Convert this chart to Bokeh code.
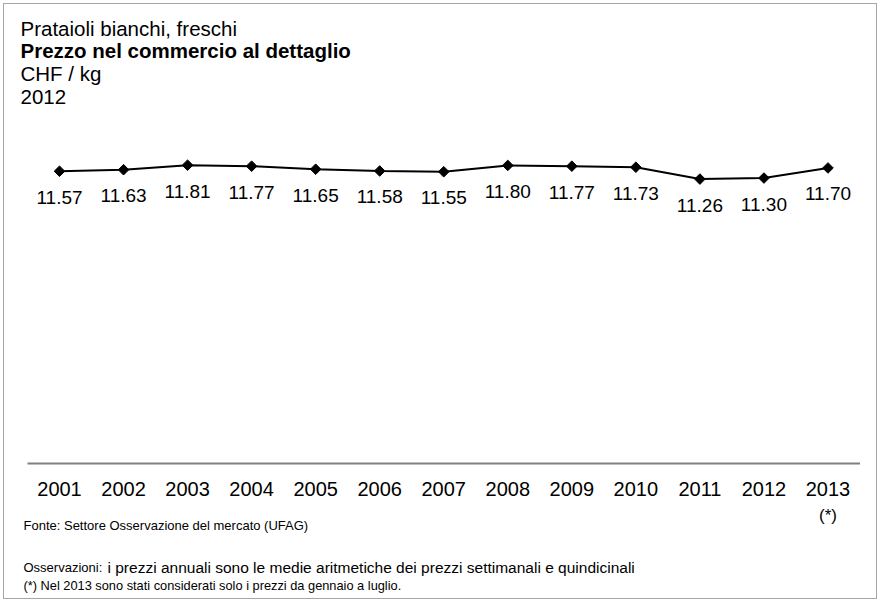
import numpy as np
from bokeh.plotting import figure
from bokeh.models import Label, ColumnDataSource, Range1d
from bokeh.core.properties import value
from bokeh.embed import file_html
from bokeh.resources import INLINE

# ---- data ----
years = ["2001", "2002", "2003", "2004", "2005", "2006", "2007",
         "2008", "2009", "2010", "2011", "2012", "2013"]
prices = [11.57, 11.63, 11.81, 11.77, 11.65, 11.58, 11.55,
          11.80, 11.77, 11.73, 11.26, 11.30, 11.70]
price_labels = ["%.2f" % v for v in prices]
year_pos = [int(y) for y in years]
year_note = "(*)"

title_lines = ["Prataioli bianchi, freschi", "Prezzo nel commercio al dettaglio",
               "CHF / kg", "2012"]
source_note = "Fonte: Settore Osservazione del mercato (UFAG)"
obs_head = "Osservazioni:"
obs_text = "i prezzi annuali sono le medie aritmetiche dei prezzi settimanali e quindicinali"
star_note = "(*) Nel 2013 sono stati considerati solo i prezzi da gennaio a luglio."

FONT = "Liberation Sans"

# ---- layout (pixels) ----
W, H = 874, 596
OX, OY = 4, 4            # canvas origin on the page
ZERO_Y = 463 - OY        # canvas y of value 0
PX_PER_UNIT = 25.26
FIRST_X = 59 - OX        # canvas x of first year
PX_PER_YEAR = 64.04

x0 = year_pos[0] - FIRST_X / PX_PER_YEAR
y0 = -(H - ZERO_Y) / PX_PER_UNIT
p = figure(width=W, height=H, title=None,
           x_range=Range1d(x0, x0 + W / PX_PER_YEAR),
           y_range=Range1d(y0, y0 + H / PX_PER_UNIT),
           output_backend="svg", toolbar_location=None,
           min_border=0, min_border_left=0, min_border_right=0,
           min_border_top=0, min_border_bottom=0)
p.styles = {"border": "1px solid #a6a6a6", "margin-left": "3px", "margin-top": "3px"}
p.outline_line_color = None
p.grid.visible = False
p.xaxis.visible = False
p.yaxis.visible = False
p.background_fill_color = "white"
p.border_fill_color = "white"

# baseline (category axis line)
p.segment(x0=[year_pos[0] - 0.5], y0=[0], x1=[year_pos[-1] + 0.5], y1=[0],
          line_color="#808080", line_width=2)

src = ColumnDataSource(dict(x=year_pos, y=prices, t=price_labels,
                            yr=years, zero=[0] * len(years)))
p.line("x", "y", source=src, line_color="black", line_width=2)
p.scatter("x", "y", source=src, marker="square", angle=np.pi / 4, size=7.5,
          fill_color="black", line_color="black")
p.text("x", "y", text="t", source=src, y_offset=26, text_align="center",
       text_baseline="middle", text_font=value(FONT),
       text_font_size="19px", text_color="black")
# year tick labels
p.text("x", "zero", text="yr", source=src, y_offset=25, text_align="center",
       text_baseline="middle", text_font=value(FONT),
       text_font_size="20px", text_color="black")
p.text(x=[year_pos[-1]], y=[0], text=[year_note], y_offset=52,
       text_align="center", text_baseline="middle", text_font=value(FONT),
       text_font_size="17px", text_color="black")


def lab(text, X, Yc, size, style="normal", font=FONT):
    p.add_layout(Label(x=X - OX, y=H - (Yc - OY), x_units="screen", y_units="screen",
                       text=text, text_font=font, text_font_size=size,
                       text_font_style=style, text_baseline="middle",
                       text_color="black"))


centers = [28, 50, 73, 96]
for i, t in enumerate(title_lines):
    lab(t, 20, centers[i], "20.5px", "bold" if i == 1 else "normal")

lab(source_note, 23, 525, "13px")
lab(obs_head, 23, 567, "13px")
lab(obs_text, 107, 567, "15.5px")
lab(star_note, 23, 585, "12.8px")

open("out.html", "w").write(file_html(p, INLINE))
